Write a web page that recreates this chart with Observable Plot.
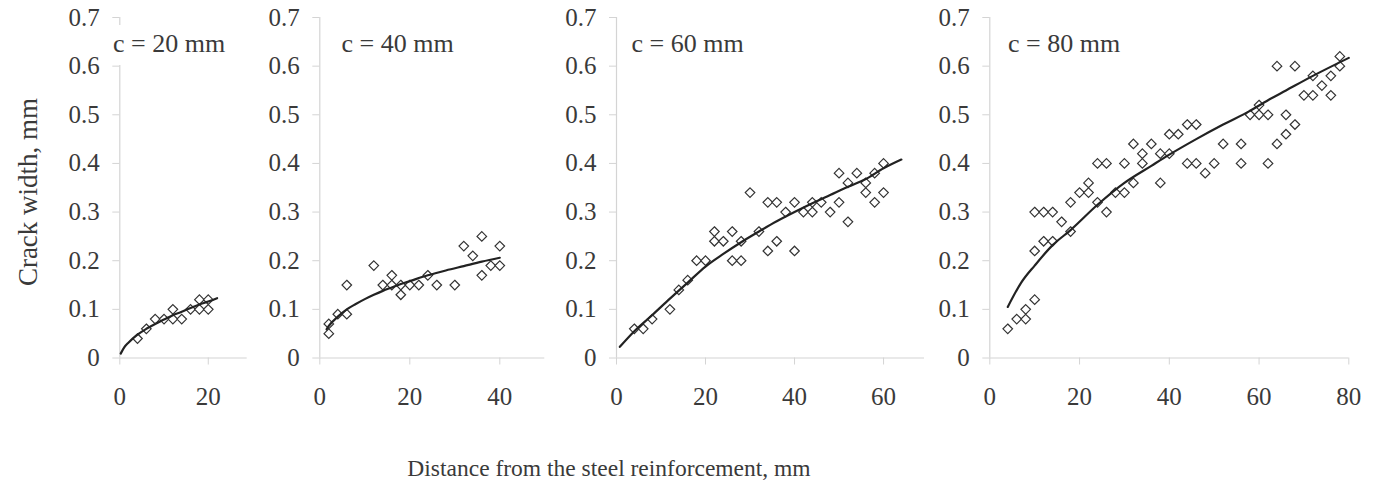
<!DOCTYPE html>
<html><head><meta charset="utf-8">
<script src="https://cdn.jsdelivr.net/npm/d3@7"></script>
<script src="https://cdn.jsdelivr.net/npm/@observablehq/plot@0.6"></script>
<style>
body{margin:0;background:#fff;font-family:"Liberation Serif",serif;}
#wrap{position:relative;width:1376px;height:487px;overflow:hidden;background:#fff}
#wrap svg{position:absolute;left:0;top:0;background:transparent}
#wrap svg text{font-family:"Liberation Serif",serif !important;}
.lab{position:absolute;font-size:26px;color:#3a3a3a;background:#fff;line-height:1;white-space:nowrap;padding:6px 4px 8px 0}
.title{position:absolute;color:#3a3a3a;white-space:nowrap;line-height:1}
</style></head><body><div id="wrap"></div>
<script>
const yTicks = [0, 0.1, 0.2, 0.3, 0.4, 0.5, 0.6, 0.7];
const panelLabels = ["c = 20 mm", "c = 40 mm", "c = 60 mm", "c = 80 mm"];
const yTitle = "Crack width, mm";
const xTitle = "Distance from the steel reinforcement, mm";

// c = 20 mm
const c20X = [4, 6, 8, 10, 12, 12, 14, 16, 18, 18, 20, 20];
const c20Y = [0.04, 0.06, 0.08, 0.08, 0.10, 0.08, 0.08, 0.10, 0.12, 0.10, 0.12, 0.10];
const c20FitX = [0.2, 1, 2, 4, 6, 8, 10, 12, 14, 16, 18, 20, 22];
const c20FitY = [0.009, 0.022, 0.032, 0.048, 0.060, 0.070, 0.079, 0.088, 0.095, 0.103, 0.110, 0.116, 0.123];

// c = 40 mm
const c40X = [2, 2, 4, 6, 6, 12, 14, 16, 16, 18, 18, 20, 22, 24, 26, 30, 32, 34, 36, 36, 38, 40, 40];
const c40Y = [0.07, 0.05, 0.09, 0.15, 0.09, 0.19, 0.15, 0.17, 0.15, 0.15, 0.13, 0.15, 0.15, 0.17, 0.15, 0.15, 0.23, 0.21, 0.25, 0.17, 0.19, 0.23, 0.19];
const c40FitX = [1.5, 2, 4, 6, 8, 10, 12, 14, 16, 18, 20, 24, 28, 32, 36, 40];
const c40FitY = [0.059, 0.066, 0.085, 0.100, 0.111, 0.121, 0.130, 0.138, 0.145, 0.152, 0.158, 0.170, 0.180, 0.189, 0.198, 0.206];

// c = 60 mm
const c60X = [4, 6, 8, 12, 14, 16, 18, 20, 22, 22, 24, 26, 26, 28, 28, 30, 32, 34, 34, 36, 36, 38, 40, 40, 42, 44, 44, 46, 48, 50, 50, 52, 52, 54, 56, 56, 58, 58, 60, 60];
const c60Y = [0.06, 0.06, 0.08, 0.10, 0.14, 0.16, 0.20, 0.20, 0.26, 0.24, 0.24, 0.26, 0.20, 0.24, 0.20, 0.34, 0.26, 0.32, 0.22, 0.32, 0.24, 0.30, 0.32, 0.22, 0.30, 0.32, 0.30, 0.32, 0.30, 0.38, 0.32, 0.36, 0.28, 0.38, 0.36, 0.34, 0.38, 0.32, 0.40, 0.34];
const c60FitX = [0.75, 4, 8, 12, 16, 20, 24, 28, 32, 36, 40, 44, 48, 52, 56, 60, 64];
const c60FitY = [0.023, 0.055, 0.088, 0.122, 0.155, 0.188, 0.214, 0.238, 0.260, 0.281, 0.300, 0.318, 0.335, 0.352, 0.368, 0.390, 0.408];

// c = 80 mm
const c80X = [4, 6, 8, 8, 10, 10, 10, 12, 12, 14, 14, 16, 18, 18, 20, 22, 22, 24, 24, 26, 26, 28, 30, 30, 32, 32, 34, 34, 36, 38, 38, 40, 40, 42, 44, 44, 46, 46, 48, 50, 52, 56, 56, 58, 60, 60, 62, 62, 64, 64, 66, 66, 68, 68, 70, 72, 72, 74, 76, 76, 78, 78];
const c80Y = [0.06, 0.08, 0.10, 0.08, 0.12, 0.22, 0.30, 0.30, 0.24, 0.30, 0.24, 0.28, 0.32, 0.26, 0.34, 0.34, 0.36, 0.40, 0.32, 0.40, 0.30, 0.34, 0.40, 0.34, 0.44, 0.36, 0.42, 0.40, 0.44, 0.42, 0.36, 0.46, 0.42, 0.46, 0.48, 0.40, 0.48, 0.40, 0.38, 0.40, 0.44, 0.44, 0.40, 0.50, 0.52, 0.50, 0.50, 0.40, 0.60, 0.44, 0.50, 0.46, 0.60, 0.48, 0.54, 0.58, 0.54, 0.56, 0.58, 0.54, 0.62, 0.60];
const c80FitX = [4, 7, 10, 14, 18, 24, 30, 36, 40, 46, 52, 58, 62, 66, 72, 80];
const c80FitY = [0.105, 0.155, 0.190, 0.232, 0.263, 0.315, 0.360, 0.395, 0.418, 0.450, 0.480, 0.508, 0.530, 0.550, 0.580, 0.617];

const xTicks = [[0, 20], [0, 20, 40], [0, 20, 40, 60], [0, 20, 40, 60, 80]];

const W = 1376, H = 400, axisY0 = 357.5, axisTop = 17;
const layout = [
  {left: 119.3, right: 246.7, max: 28.8, lx: 113, X: c20X, Y: c20Y, FX: c20FitX, FY: c20FitY},
  {left: 319.3, right: 544.3, max: 50, lx: 341.5, X: c40X, Y: c40Y, FX: c40FitX, FY: c40FitY},
  {left: 616, right: 924, max: 69.2, lx: 631.5, X: c60X, Y: c60Y, FX: c60FitX, FY: c60FitY},
  {left: 989.3, right: 1348.3, max: 80, lx: 1008, X: c80X, Y: c80Y, FX: c80FitX, FY: c80FitY}
];

const wrap = document.getElementById("wrap");
const ink = "#3a3a3a", grid = "#d4d4d4";
const serif = "Liberation Serif";

layout.forEach((p, i) => {
  const pts = p.X.map((x, j) => ({x, y: p.Y[j]}));
  const fit = p.FX.map((x, j) => ({x, y: p.FY[j]}));
  const svg = Plot.plot({
    width: W, height: H,
    marginLeft: p.left, marginRight: W - p.right,
    marginTop: axisTop, marginBottom: H - axisY0,
    style: {background: "transparent", fontFamily: serif, fontSize: "25px", color: ink, overflow: "visible"},
    x: {domain: [0, p.max]},
    y: {domain: [0, 0.7]},
    marks: [
      Plot.ruleY([0], {stroke: grid, strokeWidth: 1.2}),
      Plot.ruleX([0], {stroke: grid, strokeWidth: 1.2}),
      Plot.axisX({ticks: xTicks[i], tickSize: 7, tickPadding: 22, stroke: grid, fill: ink, label: null, fontFamily: serif, fontSize: 25, tickFormat: d => String(d)}),
      Plot.axisY({ticks: yTicks, tickSize: 7, tickPadding: 13, stroke: grid, fill: ink, label: null, fontFamily: serif, fontSize: 25, tickFormat: d => String(d)}),
      Plot.dot(pts, {x: "x", y: "y", symbol: "diamond2", r: 4.3, stroke: "#333", strokeWidth: 1.2, fill: "white"}),
      Plot.line(fit, {x: "x", y: "y", stroke: "#222", strokeWidth: 2.2, curve: "monotone-x"})
    ]
  });
  wrap.appendChild(svg);
  const lab = document.createElement("div");
  lab.className = "lab";
  lab.textContent = panelLabels[i];
  lab.style.left = p.lx + "px";
  lab.style.top = "25px";
  wrap.appendChild(lab);
});

const xt = document.createElement("div");
xt.className = "title";
xt.textContent = xTitle;
xt.style.fontSize = "23.5px";
xt.style.left = "609px";
xt.style.top = "457px";
xt.style.transform = "translateX(-50%)";
wrap.appendChild(xt);

const yt = document.createElement("div");
yt.className = "title";
yt.textContent = yTitle;
yt.style.fontSize = "27px";
yt.style.left = "28px";
yt.style.top = "192px";
yt.style.transform = "translate(-50%,-50%) rotate(-90deg)";
wrap.appendChild(yt);
</script>
</body></html>
